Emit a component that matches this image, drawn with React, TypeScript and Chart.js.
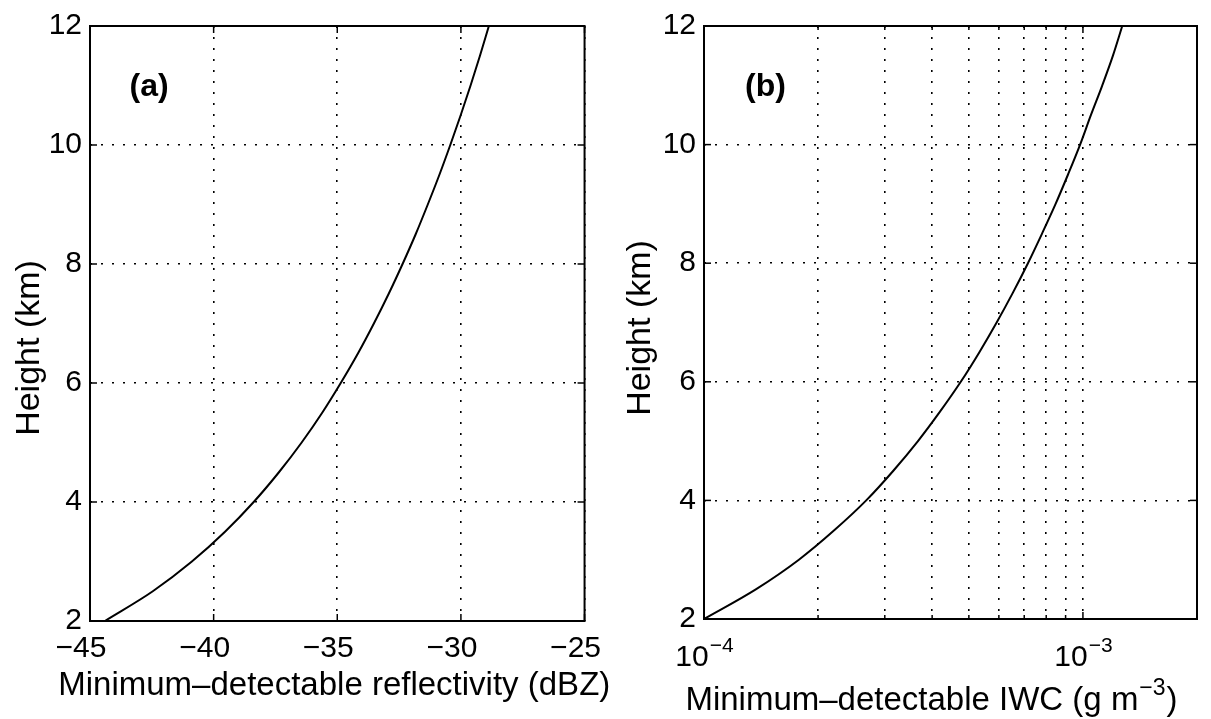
import React, { useEffect, useRef } from "react";
import { Chart, registerables } from "chart.js";

Chart.register(...registerables);

// ---- data ----
const heightsKm = [2, 2.5, 3, 3.5, 4, 4.5, 5, 5.5, 6, 6.5, 7, 7.5, 8, 8.5, 9, 9.5, 10, 10.5, 11, 11.5, 12];
const minReflectivityDBZ = [-44.4, -42.46, -40.88, -39.54, -38.38, -37.36, -36.44, -35.61, -34.86, -34.16, -33.52, -32.92, -32.36, -31.83, -31.34, -30.87, -30.43, -30.01, -29.61, -29.23, -28.87];
const minIWC = [1.0e-4, 1.37e-4, 1.78e-4, 2.21e-4, 2.68e-4, 3.16e-4, 3.67e-4, 4.2e-4, 4.76e-4, 5.33e-4, 5.92e-4, 6.53e-4, 7.16e-4, 7.8e-4, 8.47e-4, 9.14e-4, 9.83e-4, 10.5e-4, 11.25e-4, 12.0e-4, 12.7e-4];

const heightTicks = [2, 4, 6, 8, 10, 12];
const dbzTicks = [-45, -40, -35, -30, -25];
const iwcGridTicks = [1e-4, 2e-4, 3e-4, 4e-4, 5e-4, 6e-4, 7e-4, 8e-4, 9e-4, 1e-3, 2e-3];
const iwcLabelTicks = [1e-4, 1e-3];
const iwcLabelExponents = ["\u22124", "\u22123"];

const FONT = '"Liberation Sans", Arial, Helvetica, sans-serif';
const TICK_SIZE = 30;
const TITLE_SIZE = 33;

type OverlayCfg = {
  panel: string;
  panelX: number;
  panelY: number;
  xMajor: number[];
  xMinor: number[];
  yMajor: number[];
  xTitle: string;
  xTitleSup?: string;
  xTitleTail?: string;
  xTitleShift: number;
  xTitleDrop: number;
  yTitleX: number;
  yTitleY: number;
  logLabels?: { values: number[]; exps: string[] };
};

function makeOverlay(cfg: OverlayCfg) {
  return {
    id: "overlay",
    afterDraw(chart: any) {
      const { ctx, chartArea: a, scales } = chart;
      const xs = scales.x;
      const ys = scales.y;
      ctx.save();
      ctx.strokeStyle = "#000";
      ctx.fillStyle = "#000";
      const seg = (x1: number, y1: number, x2: number, y2: number) => {
        ctx.beginPath();
        ctx.moveTo(x1, y1);
        ctx.lineTo(x2, y2);
        ctx.stroke();
      };
      // inward tick marks
      ctx.lineWidth = 1.5;
      for (const v of cfg.xMajor) {
        const px = xs.getPixelForValue(v);
        seg(px, a.bottom, px, a.bottom - 7);
        seg(px, a.top, px, a.top + 7);
      }
      for (const v of cfg.xMinor) {
        const px = xs.getPixelForValue(v);
        seg(px, a.bottom, px, a.bottom - 4);
        seg(px, a.top, px, a.top + 4);
      }
      for (const v of cfg.yMajor) {
        const py = ys.getPixelForValue(v);
        seg(a.left, py, a.left + 7, py);
        seg(a.right, py, a.right - 7, py);
      }
      // frame
      ctx.lineWidth = 2;
      ctx.strokeRect(a.left, a.top, a.right - a.left, a.bottom - a.top);

      // panel label
      ctx.font = `bold 32px ${FONT}`;
      ctx.textAlign = "left";
      ctx.textBaseline = "alphabetic";
      ctx.fillText(cfg.panel, xs.getPixelForValue(cfg.panelX), ys.getPixelForValue(cfg.panelY));

      // log tick labels with superscript
      if (cfg.logLabels) {
        const big = `${TICK_SIZE}px ${FONT}`;
        const small = `21px ${FONT}`;
        cfg.logLabels.values.forEach((v, i) => {
          const px = xs.getPixelForValue(v);
          ctx.font = big;
          const w1 = ctx.measureText("10").width;
          ctx.font = small;
          const w2 = ctx.measureText(cfg.logLabels!.exps[i]).width;
          const x0 = px - (w1 + w2) / 2;
          const base = a.bottom + 47;
          ctx.font = big;
          ctx.fillText("10", x0, base);
          ctx.font = small;
          ctx.fillText(cfg.logLabels!.exps[i], x0 + w1 + 1, base - 14);
        });
      }

      // x title
      const cx = (a.left + a.right) / 2 + cfg.xTitleShift;
      const by = a.bottom + cfg.xTitleDrop;
      const tf = `${TITLE_SIZE}px ${FONT}`;
      const sf = `23px ${FONT}`;
      ctx.font = tf;
      const wMain = ctx.measureText(cfg.xTitle).width;
      let wSup = 0;
      let wTail = 0;
      if (cfg.xTitleSup) {
        ctx.font = sf;
        wSup = ctx.measureText(cfg.xTitleSup).width;
        ctx.font = tf;
        wTail = ctx.measureText(cfg.xTitleTail || "").width;
      }
      const total = wMain + wSup + wTail;
      let x = cx - total / 2;
      ctx.font = tf;
      ctx.fillText(cfg.xTitle, x, by);
      x += wMain;
      if (cfg.xTitleSup) {
        ctx.font = sf;
        ctx.fillText(cfg.xTitleSup, x + 1, by - 15);
        x += wSup + 2;
        ctx.font = tf;
        ctx.fillText(cfg.xTitleTail || "", x, by);
      }

      // y title
      ctx.save();
      ctx.translate(cfg.yTitleX, cfg.yTitleY);
      ctx.rotate(-Math.PI / 2);
      ctx.font = `34px ${FONT}`;
      ctx.textAlign = "center";
      ctx.textBaseline = "middle";
      ctx.fillText("Height (km)", 0, 0);
      ctx.restore();

      ctx.restore();
    },
  };
}

const gridStyle = {
  color: "#000",
  lineWidth: 1.6,
  drawTicks: false,
  borderDash: [2, 9],
};
const borderStyle = { display: false, dash: [2, 9] };

function curveDataset(points: { x: number; y: number }[]) {
  return {
    data: points,
    showLine: true,
    borderColor: "#000",
    borderWidth: 2,
    pointRadius: 0,
    cubicInterpolationMode: "monotone",
    fill: false,
  };
}

function buildLeftConfig(): any {
  return {
    type: "scatter",
    data: {
      datasets: [curveDataset(heightsKm.map((h, i) => ({ x: minReflectivityDBZ[i], y: h })))],
    },
    options: {
      responsive: false,
      animation: false,
      layout: { padding: { top: 22, right: 34, left: 0, bottom: 0 } },
      plugins: { legend: { display: false }, tooltip: { enabled: false } },
      scales: {
        x: {
          type: "linear",
          min: -45,
          max: -25,
          grid: gridStyle,
          border: borderStyle,
          afterBuildTicks: (s: any) => {
            s.ticks = dbzTicks.map((v) => ({ value: v }));
          },
          afterFit: (s: any) => {
            s.height = 98;
          },
          ticks: {
            color: "#000",
            font: { family: FONT, size: TICK_SIZE },
            padding: 10,
            labelOffset: -9,
            maxRotation: 0,
            callback: (v: any) => (Number(v) < 0 ? "\u2212" + Math.abs(Number(v)) : String(v)),
          },
        },
        y: {
          type: "linear",
          min: 2,
          max: 12,
          grid: gridStyle,
          border: borderStyle,
          afterBuildTicks: (s: any) => {
            s.ticks = heightTicks.map((v) => ({ value: v }));
          },
          afterFit: (s: any) => {
            s.width = 90;
          },
          ticks: {
            color: "#000",
            font: { family: FONT, size: TICK_SIZE },
            padding: 8,
          },
        },
      },
    },
    plugins: [
      makeOverlay({
        panel: "(a)",
        panelX: -43.4,
        panelY: 10.82,
        xMajor: dbzTicks,
        xMinor: [],
        yMajor: heightTicks,
        xTitle: "Minimum\u2013detectable reflectivity (dBZ)",
        xTitleSup: undefined,
        xTitleShift: -3,
        xTitleDrop: 74,
        yTitleX: 30,
        yTitleY: 348,
      }),
    ],
  };
}

function buildRightConfig(): any {
  return {
    type: "scatter",
    data: {
      datasets: [curveDataset(heightsKm.map((h, i) => ({ x: minIWC[i], y: h })))],
    },
    options: {
      responsive: false,
      animation: false,
      layout: { padding: { top: 20, right: 14, left: 0, bottom: 0 } },
      plugins: { legend: { display: false }, tooltip: { enabled: false } },
      scales: {
        x: {
          type: "logarithmic",
          min: 1e-4,
          max: 2e-3,
          grid: gridStyle,
          border: borderStyle,
          afterBuildTicks: (s: any) => {
            s.ticks = iwcGridTicks.map((v) => ({ value: v }));
          },
          afterFit: (s: any) => {
            s.height = 100;
          },
          ticks: { display: false },
        },
        y: {
          type: "linear",
          min: 2,
          max: 12,
          grid: gridStyle,
          border: borderStyle,
          afterBuildTicks: (s: any) => {
            s.ticks = heightTicks.map((v) => ({ value: v }));
          },
          afterFit: (s: any) => {
            s.width = 92;
          },
          ticks: {
            color: "#000",
            font: { family: FONT, size: TICK_SIZE },
            padding: 8,
          },
        },
      },
    },
    plugins: [
      makeOverlay({
        panel: "(b)",
        panelX: 1.283e-4,
        panelY: 10.82,
        xMajor: iwcLabelTicks,
        xMinor: iwcGridTicks.filter((v) => !iwcLabelTicks.includes(v)),
        yMajor: heightTicks,
        xTitle: "Minimum\u2013detectable IWC (g m",
        xTitleSup: "\u22123",
        xTitleTail: ")",
        xTitleShift: -20,
        xTitleDrop: 91,
        yTitleX: 29,
        yTitleY: 328,
        logLabels: { values: iwcLabelTicks, exps: iwcLabelExponents },
      }),
    ],
  };
}

function Panel(props: { left: number; width: number; build: () => any }) {
  const ref = useRef<HTMLCanvasElement | null>(null);
  useEffect(() => {
    if (!ref.current) return;
    const chart = new Chart(ref.current, props.build());
    return () => chart.destroy();
  }, []);
  return (
    <canvas
      ref={ref}
      width={props.width}
      height={719}
      style={{ position: "absolute", left: props.left, top: 0, width: props.width, height: 719 }}
    />
  );
}

export default function App() {
  return (
    <div style={{ position: "absolute", left: 0, top: 0, width: 1211, height: 719, background: "#fff" }}>
      <Panel left={0} width={620} build={buildLeftConfig} />
      <Panel left={612} width={599} build={buildRightConfig} />
    </div>
  );
}
